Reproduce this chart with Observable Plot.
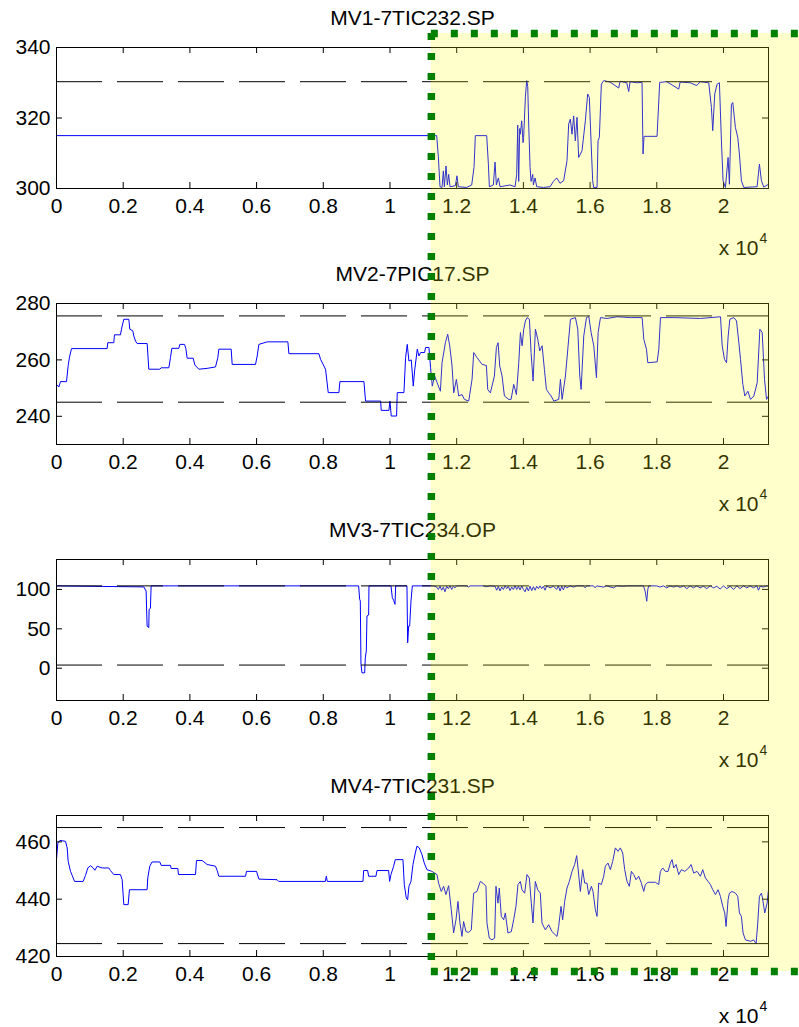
<!DOCTYPE html>
<html><head><meta charset="utf-8">
<script src="https://cdn.jsdelivr.net/npm/d3@7"></script>
<script src="https://cdn.jsdelivr.net/npm/@observablehq/plot@0.6"></script>
<style>
html,body{margin:0;padding:0;background:#fff;overflow:hidden;}
#fig{position:relative;width:799px;height:1027px;background:#fff;}
#fig svg{display:block;overflow:visible;}
</style></head><body><div id="fig"></div>
<script>
// ---------------- data ----------------
const titles = ["MV1-7TIC232.SP", "MV2-7PIC17.SP", "MV3-7TIC234.OP", "MV4-7TIC231.SP"];
const xMax = 21350;
const xTicks = [0, 2000, 4000, 6000, 8000, 10000, 12000, 14000, 16000, 18000, 20000];
const xExponentBase = "x 10";
const xExponent = "4";
const highlightStart = 11240;
const highlightEnd = 24000;

const mv1YDomain = [300, 340], mv1YTicks = [300, 320, 340], mv1Limits = [300, 330.3];
const mv2YDomain = [230, 280], mv2YTicks = [240, 260, 280], mv2Limits = [245, 275.6];
const mv3YDomain = [-41, 138], mv3YTicks = [0, 50, 100], mv3Limits = [4, 104.5];
const mv4YDomain = [420, 469.2], mv4YTicks = [420, 440, 460], mv4Limits = [424.5, 465];

const mv1 = [[0,315],[11400,315],[11450,309],[11500,300.5],[11560,300.3],[11600,305],[11630,300.5],[11680,306.4],[11720,301],[11760,304],[11800,300.5],[11960,300.8],[12008,303.6],[12050,300.5],[12300,300.3],[12450,301],[12520,306],[12560,315],[12900,315],[12950,307],[12980,300.5],[13100,301],[13150,307.5],[13190,301],[13250,303],[13300,300.5],[13600,301],[13750,300.5],[13800,304],[13830,318],[13860,302],[13890,317],[13908,315.4],[13950,319.2],[13990,313],[14008,314.5],[14060,326],[14100,330.6],[14130,329],[14160,318],[14200,306],[14230,302],[14280,304],[14300,301],[14350,303],[14400,300.5],[14600,300.3],[14800,300.5],[14900,302],[15000,303],[15100,301.5],[15208,302.2],[15308,307.9],[15358,318.3],[15408,319.7],[15458,315.4],[15508,320.6],[15558,313.5],[15608,320.2],[15658,308.8],[15758,310.7],[15858,319.2],[15928,326.8],[15978,325.8],[16028,313.5],[16078,302.2],[16108,300.3],[16208,300.3],[16238,313.5],[16278,314.5],[16338,329.6],[16408,330.6],[16600,330.2],[16858,328.5],[16900,330.4],[17100,330],[17158,327.5],[17200,330.3],[17400,330],[17558,330.1],[17588,309.8],[17618,314.8],[18008,314.8],[18088,330.1],[18300,330.3],[18658,328.2],[18700,330.2],[19000,330],[19200,329.2],[19300,330.3],[19558,330],[19638,323],[19678,316.4],[19738,326.8],[19808,329.6],[19878,330],[19938,313.5],[19988,302.2],[20058,300.3],[20138,308.8],[20178,301.2],[20238,323.9],[20278,324.4],[20358,317.3],[20428,314.5],[20478,309.8],[20538,302.2],[20608,300.3],[21008,300.5],[21078,306.9],[21138,302.2],[21208,300.4],[21350,301.2]];

const mv2 = [[0,251.3],[70,250.4],[120,252.3],[300,252.3],[350,258],[390,261],[450,264],[1518,264],[1538,266.1],[1718,266.1],[1738,268.9],[1918,268.9],[1948,270.9],[2018,274.4],[2168,274.4],[2198,270.9],[2288,270.3],[2318,268.5],[2368,266.7],[2418,265.8],[2718,265.8],[2768,256.7],[3098,256.7],[3138,257.2],[3368,257.2],[3418,260.8],[3458,264.1],[3668,264.1],[3698,265.5],[3838,265.5],[3878,264.1],[3918,260.6],[4098,260.6],[4148,258.2],[4268,256.7],[4518,257],[4768,257.5],[4838,260.8],[4868,263.8],[5238,263.8],[5268,258.4],[5968,258.4],[6018,261.4],[6068,265.5],[6318,266.4],[6938,266.4],[6968,262.2],[7868,262.2],[7918,260.2],[8068,256.7],[8148,248.4],[8468,248.4],[8498,252.3],[9218,252.3],[9268,245.4],[9718,245.4],[9738,242.1],[9968,242.1],[9998,245.4],[10038,240.1],[10198,240.1],[10218,248.4],[10418,248.4],[10468,260.8],[10518,265.5],[10568,259.6],[10638,260],[10698,250.7],[10738,256.1],[10818,263.8],[10868,261.4],[10918,262.6],[11038,262.6],[11068,264.4],[11168,264.4],[11218,257.2],[11268,250.7],[11338,254.3],[11411,252],[11511,248.9],[11561,259],[11661,266.1],[11731,269.1],[11791,265],[11861,257.8],[11911,248.3],[11991,253.1],[12061,247.2],[12161,247.7],[12231,246],[12361,245.4],[12461,253.1],[12511,262.6],[12611,260.8],[12761,258.4],[12891,258],[12931,249.5],[13011,248.3],[13131,254.3],[13191,264.4],[13241,266.1],[13291,257.8],[13361,254.3],[13431,247.2],[13561,246],[13631,246],[13711,251.3],[13791,247.7],[13861,259],[13911,269.7],[13961,265],[14011,270.9],[14061,273.8],[14111,275],[14181,274.4],[14231,262.6],[14291,252.5],[14361,270.9],[14431,267.3],[14491,263.2],[14561,265],[14631,256.6],[14691,249.5],[14761,248.3],[14831,247.2],[14911,245.4],[15061,246],[15111,253.1],[15161,246],[15261,254.3],[15341,265],[15411,274.4],[15561,275],[15631,270.9],[15691,254.3],[15731,249.5],[15811,268.5],[15891,275],[15961,275.4],[16031,269.7],[16111,265],[16191,253.7],[16241,269.7],[16311,275],[16511,274.7],[16811,275.3],[17211,275],[17561,275],[17611,267.3],[17691,263.8],[17731,259],[18011,259.3],[18061,263.8],[18111,275],[18511,275],[19311,274.7],[19911,275.3],[19961,265],[20031,260.2],[20091,259],[20141,268.5],[20191,274.4],[20311,275],[20391,273.8],[20461,266.1],[20511,260.2],[20581,251.3],[20641,247.2],[20731,248.9],[20811,246],[20911,247.2],[21011,251.9],[21091,270.9],[21161,269.7],[21231,253.1],[21291,246],[21350,247.2]];

const mv3 = [[0,104.5],[2617,103.2],[2687,98],[2717,53.5],[2767,51.4],[2777,74.7],[2817,76],[2837,104.5],[9060,104.5],[9090,87.5],[9110,85.4],[9130,4.7],[9160,-5.9],[9240,-5.9],[9260,13.2],[9290,21.7],[9310,66.3],[9360,67.5],[9370,104.5],[10030,104.5],[10070,89.6],[10110,86.2],[10150,81.1],[10170,104.5],[10509,104.5],[10530,32.3],[10560,53.5],[10590,53.5],[10630,85.4],[10670,104.5],[11300,104.5],[11400,103],[11450,100],[11500,104],[11550,99],[11600,103],[11650,97],[11700,104],[11750,101],[11800,104.5],[11850,100],[11900,104],[11950,102],[12000,104.5],[12300,104.5],[12350,103],[12400,104.5],[12800,104.5],[12900,103.5],[13000,104.5],[13150,104],[13200,99],[13250,104],[13300,98],[13350,103],[13400,100],[13450,104.5],[13500,101],[13550,104],[13600,98.5],[13650,103],[13700,100],[13750,104.5],[13800,100],[13850,104],[13900,99.5],[13950,104.5],[14000,100],[14050,97],[14100,103],[14150,98],[14200,104],[14250,98.5],[14300,103.5],[14350,99],[14400,104],[14450,101],[14500,104.5],[14550,101],[14600,104],[14650,99],[14700,104.5],[14800,102],[14900,104],[15000,100],[15050,104.5],[15100,98],[15150,104],[15200,99.5],[15250,104.5],[15300,102],[15400,104.5],[15500,103],[15600,104.5],[15800,104.5],[15850,102],[15900,104.5],[16100,104.5],[16150,102],[16200,104.5],[16400,103],[16500,104.5],[16700,102],[16800,104.5],[17000,104],[17100,104.5],[17600,104.5],[17650,98],[17700,85],[17730,100],[17760,104.5],[18000,104.5],[18100,103],[18200,104.5],[18300,102],[18400,104.5],[18500,103],[18600,104.5],[18700,102.5],[18800,104.5],[18900,101],[19000,104.5],[19100,102],[19200,104.5],[19300,102],[19400,104],[19500,101],[19600,104.5],[19700,102],[19800,104],[19900,100.5],[20000,104.5],[20100,101],[20200,104],[20300,100],[20400,104.5],[20500,101],[20600,104.5],[20700,102],[20800,104.5],[20900,102],[21000,104.5],[21050,99],[21100,104],[21200,103],[21300,104.5],[21350,104.5]];

const mv4 = [[0,453.8],[40,459.6],[100,460.5],[270,460.2],[320,457.9],[350,453.2],[420,449.7],[470,448.3],[540,446.2],[800,446.2],[870,448.3],[940,450.9],[1020,451.7],[1100,450.9],[1150,450.1],[1220,451.5],[1369,450.9],[1568,450.9],[1618,450],[1718,448.6],[1918,448.6],[1968,446.8],[2018,438.1],[2148,438.1],[2188,443.3],[2717,443.3],[2737,447.4],[2797,451.5],[2867,453],[3098,453],[3138,451.8],[3418,451.8],[3438,450.7],[3638,450.7],[3658,448.6],[4168,448.6],[4198,453.5],[4368,453.5],[4518,452.1],[4768,451.5],[4818,450],[4868,448],[5668,448],[5698,449.7],[5998,449.7],[6068,447],[6613,446.8],[6663,446.2],[8061,446.2],[8091,448],[8121,446.2],[9190,446.2],[9210,450],[9330,450],[9360,448],[9580,448],[9610,450],[9959,450],[9989,446.2],[10029,448.6],[10109,451.5],[10159,453.8],[10389,453.8],[10429,445.1],[10489,440.4],[10529,439.8],[10569,444.5],[10629,446.2],[10689,452.1],[10759,456.1],[10808,458.5],[10878,457.9],[10958,455.6],[11028,452.6],[11108,450.3],[11258,449.7],[11408,448.6],[11458,445.6],[11538,442.7],[11608,444.5],[11678,441.6],[11758,444.7],[11838,436.3],[11908,428.2],[11978,432.8],[12038,439.2],[12098,431.7],[12158,427],[12208,432.2],[12278,428.7],[12358,428.4],[12438,429.3],[12508,442.1],[12608,442.7],[12708,446.2],[12808,445.4],[12878,444.5],[12908,431.7],[12978,426.4],[13058,425.8],[13138,426.4],[13178,444.5],[13238,438.6],[13278,443.9],[13338,434],[13408,432.8],[13458,435.2],[13538,428.2],[13638,428.7],[13708,432.8],[13778,437.5],[13838,445.1],[13908,446.2],[13958,443.3],[14038,442.1],[14108,448.6],[14178,447.4],[14238,438.6],[14288,431.7],[14358,446.2],[14428,443.3],[14508,442.1],[14558,431.7],[14658,429.3],[14758,431.1],[14858,428.7],[15008,427],[15058,430.5],[15128,437.5],[15178,432.8],[15238,439.2],[15308,443.9],[15378,446.2],[15458,449.7],[15538,452.1],[15598,455.2],[15638,450.9],[15708,442.7],[15778,450.3],[15838,445.6],[15908,445.6],[15958,441.6],[16038,444.5],[16088,442.7],[16158,436.3],[16208,434],[16258,445.6],[16338,445.1],[16408,448],[16458,451.5],[16538,452.6],[16608,450.3],[16678,453.2],[16758,457.9],[16838,456.7],[16908,457.9],[16978,456.1],[17038,450.3],[17108,446.2],[17178,444.5],[17238,449.7],[17308,448.6],[17378,446.8],[17458,448],[17538,445.6],[17608,442.7],[17658,445.1],[17738,445.9],[17958,445.9],[18058,445.1],[18108,449.7],[18178,450.9],[18258,449.7],[18338,449.7],[18408,452.6],[18458,453.8],[18508,450.9],[18578,452.1],[18658,448.6],[18738,450.3],[18838,449.7],[18958,450.9],[19028,452.1],[19108,449.1],[19208,449.7],[19308,448],[19378,450.3],[19458,447.4],[19538,446.2],[19608,445.1],[19678,443.3],[19758,441.6],[19838,443.3],[19908,441],[19978,437.5],[20038,435.2],[20078,430.5],[20138,439.8],[20178,442.1],[20258,442.7],[20358,442.1],[20428,441],[20478,435.2],[20538,434],[20588,428.2],[20658,425.8],[20808,425.3],[20908,425.8],[20978,424.4],[21028,431.7],[21078,441],[21138,442.1],[21178,439.8],[21238,435.2],[21308,438.6],[21350,443.3]];

// ---------------- layout ----------------
const W = 799, H = 1027, PH = 256;
const mLeft = 56, mRight = 31, mTop = 47, plotH = 141;
const plotW = W - mLeft - mRight;
const FONT = '"Liberation Sans", Arial, Helvetica, sans-serif';

const panels = [
  {title: titles[0], pts: mv1, yDomain: mv1YDomain, yTicks: mv1YTicks, limits: mv1Limits},
  {title: titles[1], pts: mv2, yDomain: mv2YDomain, yTicks: mv2YTicks, limits: mv2Limits},
  {title: titles[2], pts: mv3, yDomain: mv3YDomain, yTicks: mv3YTicks, limits: mv3Limits},
  {title: titles[3], pts: mv4, yDomain: mv4YDomain, yTicks: mv4YTicks, limits: mv4Limits}
];

const fig = document.getElementById("fig");

panels.forEach(p => {
  const data = p.pts.map(([x, y]) => ({x, y}));
  const svg = Plot.plot({
    width: W, height: PH,
    marginTop: mTop, marginBottom: PH - mTop - plotH, marginLeft: mLeft, marginRight: mRight,
    style: {fontFamily: FONT, fontSize: "21px", color: "#000", background: "transparent", overflow: "visible"},
    x: {domain: [0, xMax], label: null},
    y: {domain: p.yDomain, label: null},
    marks: [
      Plot.line(data, {x: "x", y: "y", stroke: "#0000ff", strokeWidth: 1}),
      Plot.ruleY(p.limits, {y: d => d, stroke: "#000", strokeWidth: 1, strokeDasharray: "46 15"}),
      Plot.frame({stroke: "#000", strokeWidth: 1}),
      Plot.tickX(xTicks, {x: d => d, insetTop: plotH - 6, stroke: "#000"}),
      Plot.tickX(xTicks, {x: d => d, insetBottom: plotH - 6, stroke: "#000"}),
      Plot.tickY(p.yTicks, {y: d => d, insetRight: plotW - 6, stroke: "#000"}),
      Plot.tickY(p.yTicks, {y: d => d, insetLeft: plotW - 6, stroke: "#000"}),
      Plot.axisX(xTicks, {tickSize: 0, tickPadding: 10, tickFormat: d => String(d / 1e4), label: null, fontSize: 21}),
      Plot.axisY(p.yTicks, {tickSize: 0, tickPadding: 6, label: null, fontSize: 21}),
      Plot.text([p.title], {text: d => d, frameAnchor: "top", dy: -29, lineAnchor: "middle", fontSize: 21}),
      Plot.text([xExponentBase], {text: d => d, frameAnchor: "bottom-right", textAnchor: "end", lineAnchor: "bottom", dx: -10, dy: 66, fontSize: 21}),
      Plot.text([xExponent], {text: d => d, frameAnchor: "bottom-right", textAnchor: "start", lineAnchor: "bottom", dx: -9, dy: 54, fontSize: 14})
    ]
  });
  svg.style.overflow = "visible";
  svg.style.background = "transparent";
  fig.appendChild(svg);
});

// highlighted region overlay, sharing the panels' x scale
const boxTop = mTop - 14;
const boxBottom = 3 * PH + mTop + plotH + 15;
const overlay = Plot.plot({
  width: W, height: H,
  marginLeft: mLeft, marginRight: mRight, marginTop: 0, marginBottom: 0,
  x: {domain: [0, xMax], axis: null},
  y: {domain: [0, 1], range: [boxTop, boxBottom], axis: null},
  marks: [
    Plot.rect([0], {x1: highlightStart, x2: highlightEnd, y1: 0, y2: 1, fill: "#ffff00", fillOpacity: 0.2}),
    Plot.ruleX([highlightStart], {x: d => d, y1: 0, y2: 1, stroke: "#008000", strokeWidth: 7.5, strokeDasharray: "7 13"}),
    Plot.ruleY([0, 1], {y: d => d, x1: highlightStart, x2: highlightEnd, stroke: "#008000", strokeWidth: 7.5, strokeDasharray: "7 13"})
  ]
});
overlay.style.position = "absolute";
overlay.style.left = "0";
overlay.style.top = "0";
overlay.style.background = "transparent";
overlay.style.overflow = "hidden";
overlay.style.pointerEvents = "none";
fig.appendChild(overlay);
</script>
</body></html>
